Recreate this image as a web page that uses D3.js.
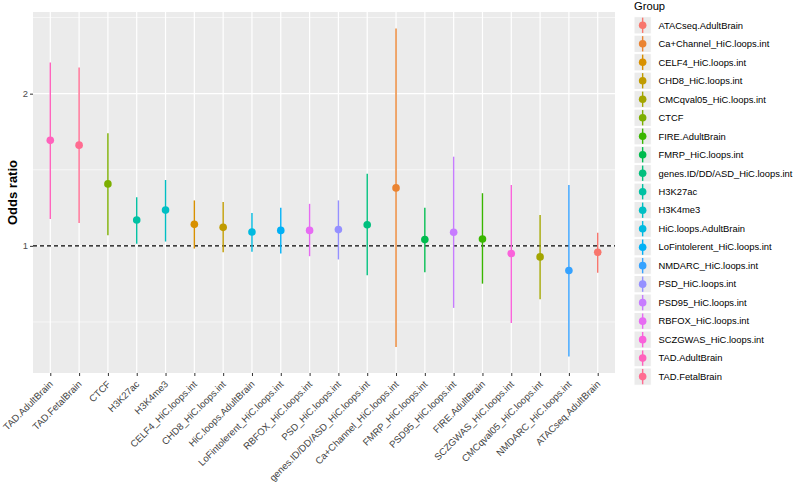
<!DOCTYPE html>
<html>
<head>
<meta charset="utf-8">
<script src="https://cdn.jsdelivr.net/npm/d3@7"></script>
<style>
  html, body { margin: 0; padding: 0; background: #fff; }
  svg { display: block; font-family: "Liberation Sans", Arial, Helvetica, sans-serif; }
</style>
</head>
<body>
<svg id="chart" width="793" height="485"></svg>
<script>
// ---- data ----
const categories = ["TAD.AdultBrain","TAD.FetalBrain","CTCF","H3K27ac","H3K4me3",
  "CELF4_HiC.loops.int","CHD8_HiC.loops.int","HiC.loops.AdultBrain","LoFintolerent_HiC.loops.int",
  "RBFOX_HiC.loops.int","PSD_HiC.loops.int","genes.ID/DD/ASD_HiC.loops.int","Ca+Channel_HiC.loops.int",
  "FMRP_HiC.loops.int","PSD95_HiC.loops.int","FIRE.AdultBrain","SCZGWAS_HiC.loops.int",
  "CMCqval05_HiC.loops.int","NMDARC_HiC.loops.int","ATACseq.AdultBrain"];
const oddsRatio = [1.617,1.582,1.326,1.125,1.177,1.103,1.088,1.065,1.073,1.073,1.077,1.101,1.302,1.029,1.064,1.032,0.966,0.951,0.894,0.971];
const lowerCI   = [1.130,1.110,1.049,1.010,1.020,0.988,0.971,0.974,0.966,0.954,0.940,0.875,0.631,0.887,0.754,0.842,0.704,0.784,0.604,0.885];
const upperCI   = [2.305,2.253,1.671,1.248,1.350,1.230,1.221,1.161,1.189,1.211,1.230,1.389,2.692,1.189,1.501,1.271,1.320,1.151,1.320,1.061];
const groups = ["ATACseq.AdultBrain","Ca+Channel_HiC.loops.int","CELF4_HiC.loops.int","CHD8_HiC.loops.int",
  "CMCqval05_HiC.loops.int","CTCF","FIRE.AdultBrain","FMRP_HiC.loops.int","genes.ID/DD/ASD_HiC.loops.int",
  "H3K27ac","H3K4me3","HiC.loops.AdultBrain","LoFintolerent_HiC.loops.int","NMDARC_HiC.loops.int",
  "PSD_HiC.loops.int","PSD95_HiC.loops.int","RBFOX_HiC.loops.int","SCZGWAS_HiC.loops.int",
  "TAD.AdultBrain","TAD.FetalBrain"];
const palette = ["#F8766D","#EA8331","#D89000","#C09B00","#A3A500","#7CAE00","#39B600","#00BB4E","#00BF7D","#00C1A3",
  "#00BFC4","#00BAE0","#00B0F6","#35A2FF","#9590FF","#C77CFF","#E76BF3","#FA62DB","#FF62BC","#FF6C91"];
const yTicks = [1, 2];
const yMinor = [Math.SQRT1_2, Math.SQRT2, 2 * Math.SQRT2];
const yTitle = "Odds ratio";
const legendTitle = "Group";

// ---- layout ----
const svg = d3.select("#chart");
const panel = { left: 33, right: 615, top: 12, bottom: 373 };
const color = d3.scaleOrdinal().domain(groups).range(palette);

const rows = categories.map((c, i) => ({ cat: c, or: oddsRatio[i], lo: lowerCI[i], hi: upperCI[i] }));

const x = d3.scalePoint().domain(categories).range([panel.left, panel.right]).padding(0.6);
const lmin = Math.log2(d3.min(lowerCI)), lmax = Math.log2(d3.max(upperCI));
const ex = (lmax - lmin) * 0.05;
const y = d3.scaleLog().base(2).domain([Math.pow(2, lmin - ex), Math.pow(2, lmax + ex)])
  .range([panel.bottom, panel.top]);

// panel background
svg.append("rect").attr("x", panel.left).attr("y", panel.top)
  .attr("width", panel.right - panel.left).attr("height", panel.bottom - panel.top)
  .attr("fill", "#EBEBEB");

const grid = svg.append("g");
grid.selectAll("line.minor").data(yMinor).join("line")
  .attr("x1", panel.left).attr("x2", panel.right)
  .attr("y1", d => y(d)).attr("y2", d => y(d))
  .attr("stroke", "#fff").attr("stroke-width", 0.6);
grid.selectAll("line.major").data(yTicks).join("line")
  .attr("x1", panel.left).attr("x2", panel.right)
  .attr("y1", d => y(d)).attr("y2", d => y(d))
  .attr("stroke", "#fff").attr("stroke-width", 1.2);
grid.selectAll("line.vx").data(categories).join("line")
  .attr("x1", d => x(d)).attr("x2", d => x(d))
  .attr("y1", panel.top).attr("y2", panel.bottom)
  .attr("stroke", "#fff").attr("stroke-width", 1.2);

// reference line
svg.append("line").attr("x1", panel.left).attr("x2", panel.right)
  .attr("y1", y(1)).attr("y2", y(1))
  .attr("stroke", "#000").attr("stroke-width", 1.1).attr("stroke-dasharray", "4,3");

// error bars + points
const marks = svg.append("g");
marks.selectAll("line.err").data(rows).join("line")
  .attr("x1", d => x(d.cat)).attr("x2", d => x(d.cat))
  .attr("y1", d => y(d.lo)).attr("y2", d => y(d.hi))
  .attr("stroke", d => color(d.cat)).attr("stroke-width", 1.4);
marks.selectAll("circle").data(rows).join("circle")
  .attr("cx", d => x(d.cat)).attr("cy", d => y(d.or)).attr("r", 3.8)
  .attr("fill", d => color(d.cat));

// y axis
const yAxis = d3.axisLeft(y).tickValues(yTicks).tickFormat(d3.format("d")).tickSize(3).tickPadding(2);
const gy = svg.append("g").attr("transform", `translate(${panel.left},0)`).call(yAxis);
gy.select(".domain").remove();
gy.selectAll(".tick line").attr("stroke", "#333");
gy.selectAll(".tick text").attr("fill", "#4D4D4D").style("font-size", "9.4px")
  .style("font-family", "Liberation Sans, Arial, sans-serif");

// x axis
const xAxis = d3.axisBottom(x).tickSize(3).tickPadding(0);
const gx = svg.append("g").attr("transform", `translate(0,${panel.bottom})`).call(xAxis);
gx.select(".domain").remove();
gx.selectAll(".tick line").attr("stroke", "#333");
gx.selectAll(".tick text")
  .attr("fill", "#444").style("font-size", "9.6px")
  .style("font-family", "Liberation Sans, Arial, sans-serif")
  .attr("text-anchor", "end")
  .attr("y", 0).attr("dy", "0.7em")
  .attr("transform", "translate(-2,7) rotate(-45)");

// y title
svg.append("text").attr("transform", `translate(17,${(panel.top + panel.bottom) / 2}) rotate(-90)`)
  .attr("text-anchor", "middle").style("font-size", "13px").style("font-weight", "bold")
  .attr("fill", "#000").text(yTitle);

// legend
const lg = svg.append("g");
lg.append("text").attr("x", 634).attr("y", 9.5).style("font-size", "11.2px").attr("fill", "#000").text(legendTitle);
const keyY0 = 25.3, keyStep = 18.49, keyW = 17.3;
const items = lg.selectAll("g.item").data(groups).join("g")
  .attr("transform", (d, i) => `translate(634,${keyY0 + i * keyStep})`);
items.append("rect").attr("x", 0).attr("y", -keyW / 2).attr("width", keyW).attr("height", keyW)
  .attr("fill", "#EBEBEB").attr("stroke", "#fff").attr("stroke-width", 1);
items.append("line").attr("x1", keyW / 2).attr("x2", keyW / 2).attr("y1", -keyW / 2 + 1).attr("y2", keyW / 2 - 1)
  .attr("stroke", d => color(d)).attr("stroke-width", 1.4);
items.append("circle").attr("cx", keyW / 2).attr("cy", 0).attr("r", 3.8).attr("fill", d => color(d));
items.append("text").attr("x", 24.5).attr("y", 0).attr("dy", "0.35em")
  .style("font-size", "9.4px").attr("fill", "#000").text(d => d);
</script>
</body>
</html>
